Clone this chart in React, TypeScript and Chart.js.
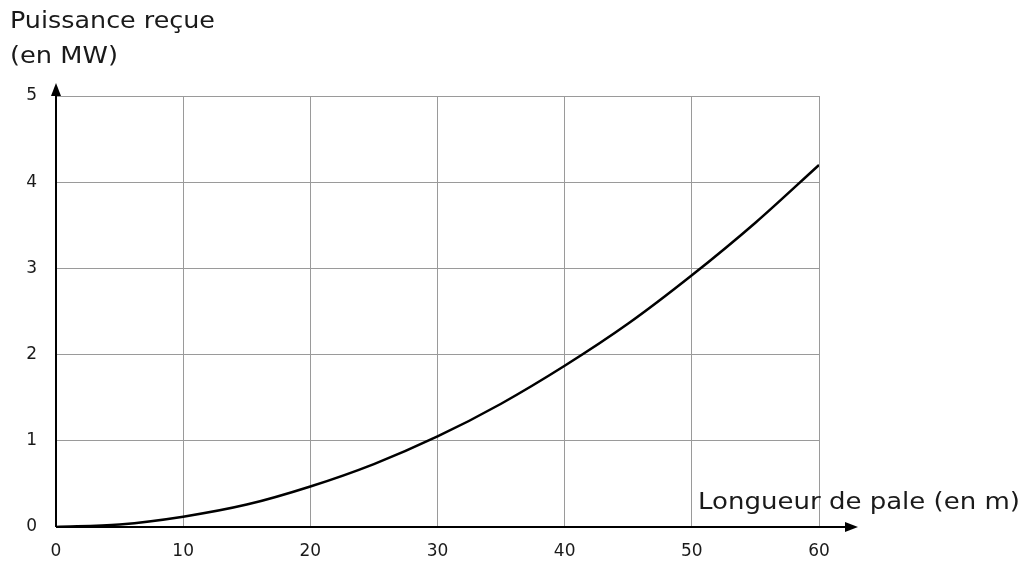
import React, { useEffect, useRef } from "react";
import { Chart, registerables } from "chart.js";

Chart.register(...registerables);

const lengths = [0, 5, 10, 15, 20, 25, 30, 35, 40, 45, 50, 55, 60];
const powers = [0, 0.03, 0.12, 0.26, 0.47, 0.73, 1.05, 1.43, 1.87, 2.36, 2.92, 3.53, 4.2];
const xTicks = [0, 10, 20, 30, 40, 50, 60];
const yTicks = [0, 1, 2, 3, 4, 5];
const yTitleLines = ["Puissance reçue", "(en MW)"];
const xTitle = "Longueur de pale (en m)";

const FONT = "'DejaVu Sans', Verdana, sans-serif";

const axesPlugin = {
  id: "arrowAxes",
  afterDatasetsDraw(chart: any) {
    const { ctx, chartArea } = chart;
    const { left, bottom, top } = chartArea;
    ctx.save();
    ctx.strokeStyle = "#000";
    ctx.fillStyle = "#000";
    ctx.lineWidth = 2;
    // x axis
    ctx.beginPath();
    ctx.moveTo(left, bottom);
    ctx.lineTo(848, bottom);
    ctx.stroke();
    ctx.beginPath();
    ctx.moveTo(858, bottom);
    ctx.lineTo(845, bottom - 5);
    ctx.lineTo(845, bottom + 5);
    ctx.closePath();
    ctx.fill();
    // y axis
    ctx.beginPath();
    ctx.moveTo(left, bottom);
    ctx.lineTo(left, top - 4);
    ctx.stroke();
    ctx.beginPath();
    ctx.moveTo(left, top - 13);
    ctx.lineTo(left - 5, top);
    ctx.lineTo(left + 5, top);
    ctx.closePath();
    ctx.fill();
    // titles
    ctx.font = `23px ${FONT}`;
    ctx.fillStyle = "#1a1a1a";
    ctx.textAlign = "left";
    ctx.textBaseline = "alphabetic";
    const fit = (t: string, x: number, y: number, w: number) => {
      const m = ctx.measureText(t).width;
      ctx.save();
      ctx.translate(x, y);
      ctx.scale(w / m, 1);
      ctx.fillText(t, 0, 0);
      ctx.restore();
    };
    fit(yTitleLines[0], 10, 28, 205);
    fit(yTitleLines[1], 10, 63, 108);
    fit(xTitle, 698, 509, 322);
    ctx.restore();
  },
};

export default function App() {
  const ref = useRef<HTMLCanvasElement>(null);
  useEffect(() => {
    if (!ref.current) return;
    const chart = new Chart(ref.current, {
      type: "line",
      data: {
        datasets: [
          {
            data: lengths.map((l, i) => ({ x: l, y: powers[i] })),
            borderColor: "#000",
            borderWidth: 2.5,
            pointRadius: 0,
            cubicInterpolationMode: "monotone",
            fill: false,
          },
        ],
      },
      options: {
        animation: false,
        responsive: false,
        maintainAspectRatio: false,
        layout: { padding: { top: 96, right: 208, left: 0, bottom: 0 } },
        plugins: { legend: { display: false }, tooltip: { enabled: false } },
        scales: {
          x: {
            type: "linear",
            min: 0,
            max: 60,
            afterBuildTicks: (s: any) => {
              s.ticks = xTicks.map((v) => ({ value: v }));
            },
            afterFit: (s: any) => {
              s.height = 35;
            },
            grid: { color: "#9a9a9a", lineWidth: 1, drawTicks: false },
            border: { display: false },
            ticks: { color: "#1a1a1a", font: { family: FONT, size: 17 }, padding: 14, maxRotation: 0 },
          },
          y: {
            type: "linear",
            min: 0,
            max: 5,
            afterBuildTicks: (s: any) => {
              s.ticks = yTicks.map((v) => ({ value: v }));
            },
            afterFit: (s: any) => {
              s.width = 56;
            },
            grid: { color: "#9a9a9a", lineWidth: 1, drawTicks: false },
            border: { display: false },
            ticks: { color: "#1a1a1a", font: { family: FONT, size: 17 }, padding: 19 },
          },
        },
      },
      plugins: [axesPlugin],
    } as any);
    return () => chart.destroy();
  }, []);
  return (
    <div style={{ position: "absolute", left: 0, top: 0, width: 1027, height: 562, background: "#fff" }}>
      <canvas ref={ref} width={1027} height={562} style={{ width: 1027, height: 562 }} />
    </div>
  );
}
